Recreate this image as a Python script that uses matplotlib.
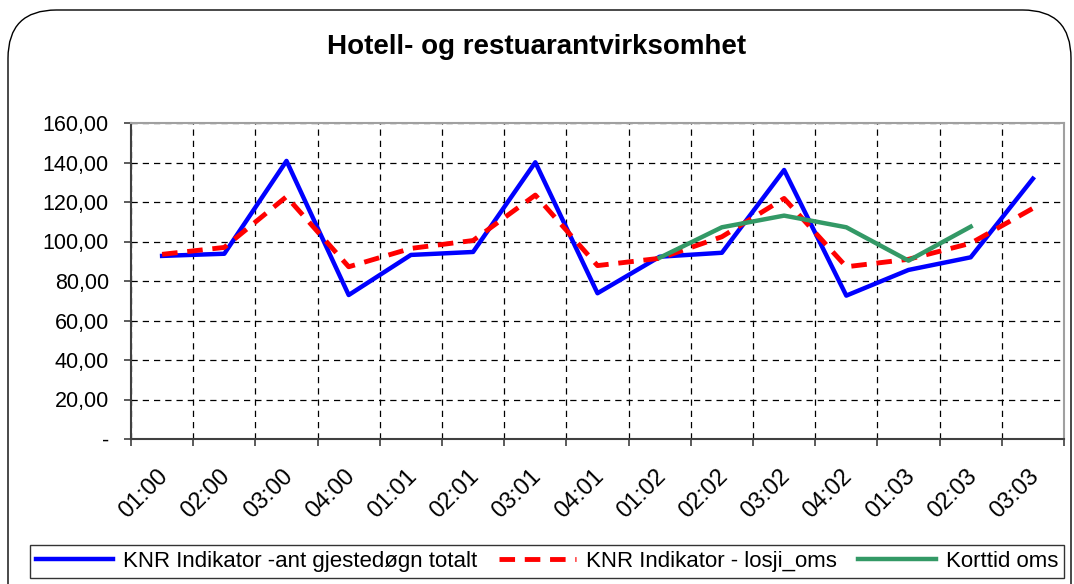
import numpy as np
import matplotlib
matplotlib.use('Agg')
import matplotlib.pyplot as plt
import matplotlib.transforms as mtransforms
from matplotlib.patches import FancyBboxPatch
from matplotlib.ticker import FuncFormatter

plt.rcParams['font.family'] = ['Liberation Sans', 'DejaVu Sans']

categories = ['01:00', '02:00', '03:00', '04:00', '01:01', '02:01', '03:01', '04:01',
              '01:02', '02:02', '03:02', '04:02', '01:03', '02:03', '03:03']
gjestedogn = [92.7, 93.8, 140.8, 72.9, 93.2, 94.7, 140.1, 73.8,
              92.3, 94.3, 136.2, 72.6, 85.6, 92.0, 131.8]
losji_oms = [93.5, 97.0, 122.7, 87.2, 96.5, 100.5, 123.5, 87.8,
             91.5, 102.4, 121.8, 87.2, 91.0, 99.1, 116.8]
korttid = [None] * 8 + [91.8, 107.2, 113.1, 107.2, 90.3, 107.5, None]

title = 'Hotell- og restuarantvirksomhet'
labels = ['KNR Indikator -ant gjestedøgn totalt', 'KNR Indikator - losji_oms', 'Korttid oms']

x = np.arange(len(categories))
korttid_arr = np.array([np.nan if v is None else v for v in korttid])

fig = plt.figure(figsize=(10.74, 5.84), dpi=100)
# rounded chart-area border, bottom edge runs off the image
fig.patches.append(FancyBboxPatch((8 / 1074, -0.1), (1071 - 8) / 1074, 1 - 10 / 584 + 0.1,
                                  boxstyle='round,pad=0,rounding_size=0.045',
                                  transform=fig.transFigure, fill=False,
                                  edgecolor='black', linewidth=1.0,
                                  mutation_aspect=1074 / 584))

ax = fig.add_axes([131 / 1074, 145 / 584, (1064 - 131) / 1074, (439 - 123) / 584])
ax.plot(x, gjestedogn, color='#0000ff', linewidth=3.2, label=labels[0])
ax.plot(x, losji_oms, color='#ff0000', linewidth=3.5, dashes=(3.2, 2.0), label=labels[1])
ax.plot(x, korttid_arr, color='#339966', linewidth=3.2, label=labels[2])

ax.set_xlim(-0.5, len(categories) - 0.5)
ax.set_ylim(0, 160)
ax.set_yticks(np.arange(0, 161, 20))
ax.yaxis.set_major_formatter(FuncFormatter(
    lambda v, p: '-' if v == 0 else '{:.2f}'.format(v).replace('.', ',')))
ax.set_xticks(x)
ax.set_xticklabels(categories, rotation=45, ha='right', rotation_mode='anchor')
ax.set_xticks(np.arange(-0.5, len(categories), 1), minor=True)
ax.tick_params(axis='x', which='major', length=0, labelsize=17, pad=19)
ax.tick_params(axis='x', which='minor', length=5, width=1.2, color='#404040', direction='out')
ax.tick_params(axis='y', labelsize=15.5, length=5, width=1.2, color='#404040',
               direction='out', pad=11)
shift = mtransforms.ScaledTranslation(-5 / 100, 0, fig.dpi_scale_trans)
for lbl in ax.get_xticklabels():
    lbl.set_transform(lbl.get_transform() + shift)
ax.grid(True, axis='y', which='major', color='black', linestyle=(0, (5, 4)), linewidth=0.9)
ax.grid(True, axis='x', which='minor', color='black', linestyle=(0, (5, 4)), linewidth=0.9)
for side in ['top', 'right']:
    ax.spines[side].set_color('#a0a0a0')
    ax.spines[side].set_linewidth(1.5)
for side in ['left', 'bottom']:
    ax.spines[side].set_color('#404040')
    ax.spines[side].set_linewidth(1.5)

fig.text(0.5, 1 - 47 / 584, title, ha='center', va='center', fontsize=20, fontweight='bold')

leg = fig.legend(loc='center', bbox_to_anchor=(30 / 1074, 4 / 584, (1064 - 30) / 1074, 37 / 584),
                 ncol=3, mode='expand', fontsize=16, frameon=True, fancybox=False,
                 handlelength=3.5, handletextpad=0.45, columnspacing=0.6, borderaxespad=0,
                 borderpad=0.25)
leg.get_frame().set_edgecolor('black')
leg.get_frame().set_linewidth(1.0)

fig.savefig('out.png', dpi=100)
